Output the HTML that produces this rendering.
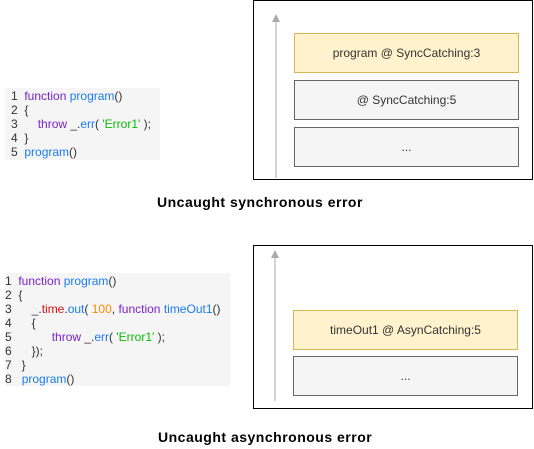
<!DOCTYPE html>
<html><head><meta charset="utf-8"><style>
body{margin:0;width:534px;height:449px;background:#fff;position:relative;overflow:hidden;font-family:"Liberation Sans",Arial,sans-serif}
.a{position:absolute}
.ln{position:absolute;font-size:12px;line-height:14px;color:#333;white-space:pre}
.p{color:#7a22c9}.b{color:#1a7cf0}.g{color:#0aba0a}.r{color:#d01010}.o{color:#ff8c00}
.box{position:absolute;box-sizing:border-box;display:flex;align-items:center;justify-content:center;font-size:12px;color:#333}
.y{background:#fff2cc;border:1px solid #d6b656}
.gr{background:#f5f5f5;border:1px solid #666}
.t{position:absolute;font-weight:bold;font-size:14px;letter-spacing:0.5px;color:#000;white-space:nowrap}
</style></head><body>
<div class="a" style="left:5px;top:88px;width:155px;height:72px;background:#f5f5f5"></div>
<div class="ln" style="left:11px;top:89px">1  <span class="p">function</span> <span class="b">program</span>()</div>
<div class="ln" style="left:11px;top:103px">2  {</div>
<div class="ln" style="left:11px;top:117px">3      <span class="p">throw</span> _.<span class="b">err</span>( <span class="g">'Error1'</span> );</div>
<div class="ln" style="left:11px;top:131px">4  }</div>
<div class="ln" style="left:11px;top:145px">5  <span class="b">program</span>()</div>

<div class="a" style="left:253px;top:0px;width:280px;height:180px;box-sizing:border-box;border:1px solid #000"></div>
<svg class="a" style="left:0;top:0" width="534" height="449">
<line x1="276" y1="20" x2="276" y2="178" stroke="#aaa" stroke-width="1"/>
<polygon points="276,14 272,22 280,22" fill="#aaa"/>
<line x1="275" y1="256" x2="275" y2="401" stroke="#aaa" stroke-width="1"/>
<polygon points="275,250 271,258 279,258" fill="#aaa"/>
</svg>
<div class="box y" style="left:294px;top:33px;width:225px;height:40px">program @ SyncCatching:3</div>
<div class="box gr" style="left:294px;top:80px;width:225px;height:40px">@ SyncCatching:5</div>
<div class="box gr" style="left:294px;top:127px;width:225px;height:40px">...</div>
<div class="t" style="left:157px;top:194px">Uncaught synchronous error</div>

<div class="a" style="left:5px;top:273px;width:225px;height:113px;background:#f5f5f5"></div>
<div class="ln" style="left:5px;top:274px">1  <span class="p">function</span> <span class="b">program</span>()</div>
<div class="ln" style="left:5px;top:288px">2  {</div>
<div class="ln" style="left:5px;top:302px">3      _.<span class="r">time</span>.<span class="b">out</span>( <span class="o">100</span>, <span class="p">function</span> <span class="b">timeOut1</span>()</div>
<div class="ln" style="left:5px;top:316px">4      {</div>
<div class="ln" style="left:5px;top:330px">5            <span class="p">throw</span> _.<span class="b">err</span>( <span class="g">'Error1'</span> );</div>
<div class="ln" style="left:5px;top:344px">6      });</div>
<div class="ln" style="left:5px;top:358px">7   }</div>
<div class="ln" style="left:5px;top:372px">8   <span class="b">program</span>()</div>

<div class="a" style="left:253px;top:245px;width:280px;height:164px;box-sizing:border-box;border:1px solid #000"></div>
<div class="box y" style="left:293px;top:310px;width:225px;height:40px">timeOut1 @ AsynCatching:5</div>
<div class="box gr" style="left:293px;top:356px;width:225px;height:40px">...</div>
<div class="t" style="left:158px;top:429px">Uncaught asynchronous error</div>
</body></html>
